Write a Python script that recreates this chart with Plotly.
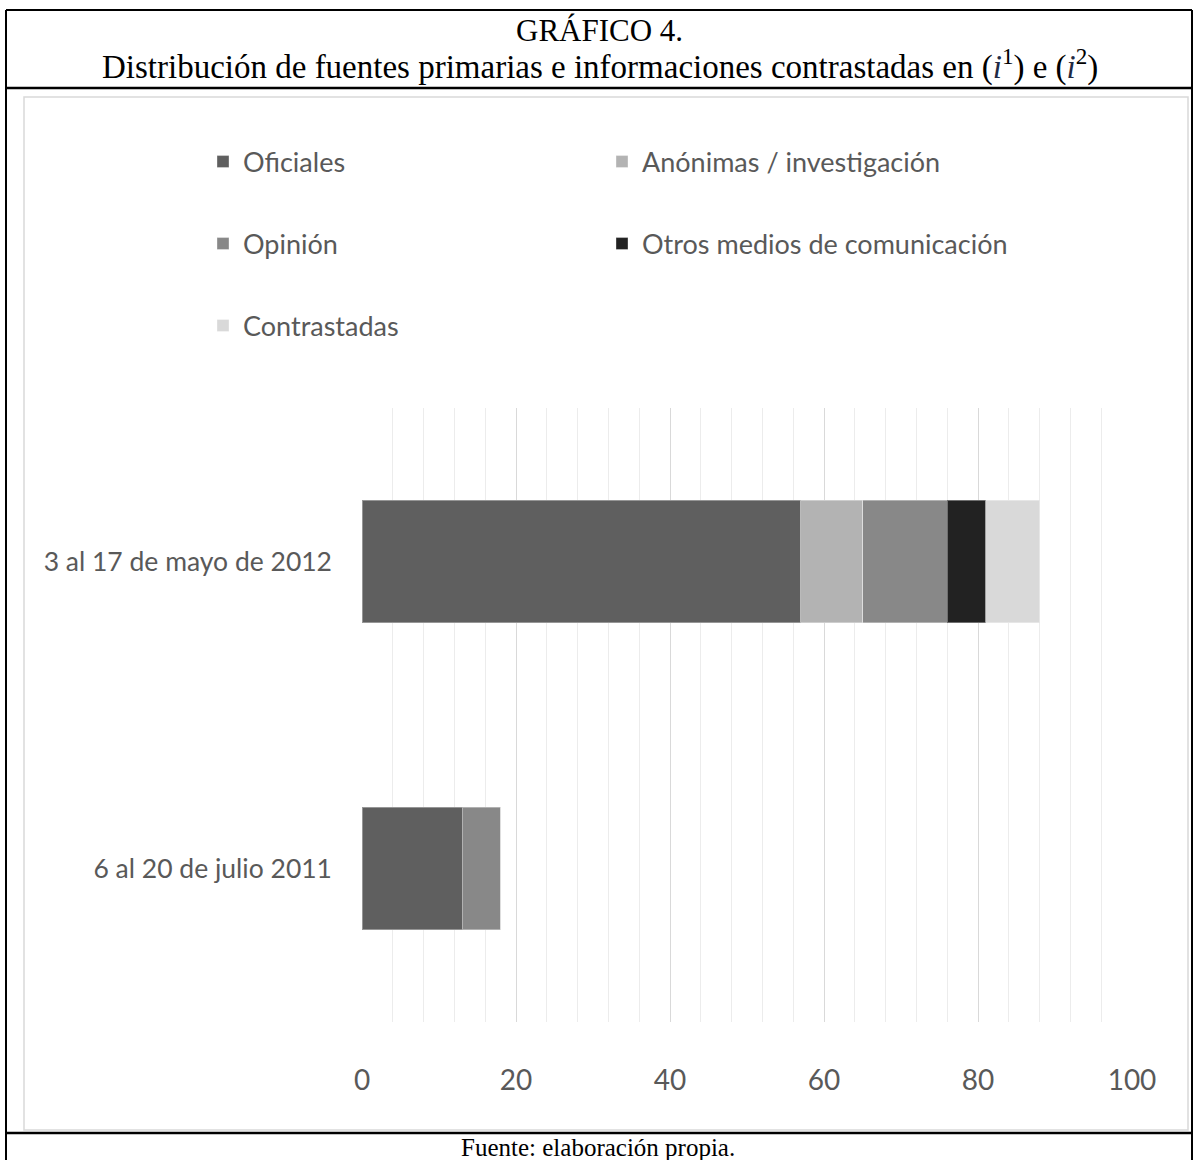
import plotly.graph_objects as go

# ---- data ----
categories = ["6 al 20 de julio 2011", "3 al 17 de mayo de 2012"]
series_names = ["Oficiales", "Anónimas / investigación", "Opinión",
                "Otros medios de comunicación", "Contrastadas"]
oficiales = [13, 57]
anonimas = [0, 8]
opinion = [5, 11]
otros = [0, 5]
contrastadas = [0, 7]
x_ticks = [0, 20, 40, 60, 80, 100]

series_values = [oficiales, anonimas, opinion, otros, contrastadas]
colors = ["#5f5f5f", "#b3b3b3", "#888888", "#222222", "#d9d9d9"]

W, H = 1194, 1160
L, R, T, B = 362, 1132, 408, 1022  # plot area in pixels

def px(x):
    return (x - L) / (R - L)

def py(y):
    return (B - y) / (B - T)

SANS = "Lato, Carlito, Calibri, sans-serif"
SERIF = "Liberation Serif, Times New Roman, serif"
TXT = "#595959"

fig = go.Figure()
legend_pos = [(203, 162), (602, 162), (203, 244), (602, 244), (203, 326)]
legend_ids = ["legend", "legend2", "legend3", "legend4", "legend5"]
for name, vals, col, lid in zip(series_names, series_values, colors, legend_ids):
    fig.add_trace(go.Bar(
        y=categories, x=vals, name=name, orientation="h",
        marker=dict(color=col, line=dict(color="rgba(255,255,255,0.35)", width=1)),
        legend=lid, hoverinfo="x+name",
    ))

layout_legends = {}
for lid, (lx, ly) in zip(legend_ids, legend_pos):
    layout_legends[lid] = dict(
        xref="container", yref="container",
        x=lx / W, y=1 - ly / H, xanchor="left", yanchor="middle",
        orientation="h", bgcolor="rgba(0,0,0,0)", borderwidth=0,
        font=dict(family=SANS, size=27, color=TXT),
    )

shapes = []
def line(x0, y0, x1, y1, color="black", width=2):
    shapes.append(dict(type="line", xref="paper", yref="paper",
                       x0=px(x0), y0=py(y0), x1=px(x1), y1=py(y1),
                       line=dict(color=color, width=width)))

# inner light frame of the chart
shapes.append(dict(type="rect", xref="paper", yref="paper",
                   x0=px(24), y0=py(97), x1=px(1188), y1=py(1130),
                   line=dict(color="#d9d9d9", width=1.5)))
# table borders
line(6, 10, 1192, 10)
line(6, 10, 6, 1160)
line(1192, 10, 1192, 1160)
line(6, 88, 1192, 88, width=2.5)
line(6, 1133, 1192, 1133, width=2.5)

I_COL = "#1f2a44"
annotations = [
    dict(text="GRÁFICO 4.", xref="paper", yref="paper", x=px(599), y=py(31),
         showarrow=False, xanchor="center", yanchor="middle",
         font=dict(family=SERIF, size=31, color="black")),
    dict(text=("Distribución de fuentes primarias e informaciones contrastadas en "
               f"(<i><span style='color:{I_COL}'>i</span></i><sup>1</sup>) e "
               f"(<i><span style='color:{I_COL}'>i</span></i><sup>2</sup>)"),
         xref="paper", yref="paper", x=px(600), y=py(64),
         showarrow=False, xanchor="center", yanchor="middle",
         font=dict(family=SERIF, size=33, color="black")),
    dict(text="Fuente: elaboración propia.", xref="paper", yref="paper",
         x=px(598), y=py(1147), showarrow=False, xanchor="center", yanchor="middle",
         font=dict(family=SERIF, size=25, color="black")),
]

fig.update_layout(
    width=W, height=H,
    margin=dict(l=L, r=W - R, t=T, b=H - B, pad=0, autoexpand=False),
    barmode="stack", bargap=0.6,
    paper_bgcolor="white", plot_bgcolor="white",
    shapes=shapes, annotations=annotations,
    showlegend=True,
    **layout_legends,
)
fig.update_xaxes(
    range=[0, 100], tickvals=x_ticks, ticks="", showline=False, zeroline=False,
    automargin=False,
    showgrid=True, gridcolor="#d9d9d9", gridwidth=1,
    minor=dict(dtick=4, showgrid=True, gridcolor="#ececec", gridwidth=1),
    tickfont=dict(family=SANS, size=28, color=TXT),
    ticklabelstandoff=39,
)
fig.update_yaxes(
    categoryorder="array", categoryarray=categories,
    automargin=False,
    ticks="", showline=False, showgrid=False, zeroline=False,
    tickfont=dict(family=SANS, size=26.5, color=TXT),
    ticklabelstandoff=29,
)

fig.write_html("out.html")
